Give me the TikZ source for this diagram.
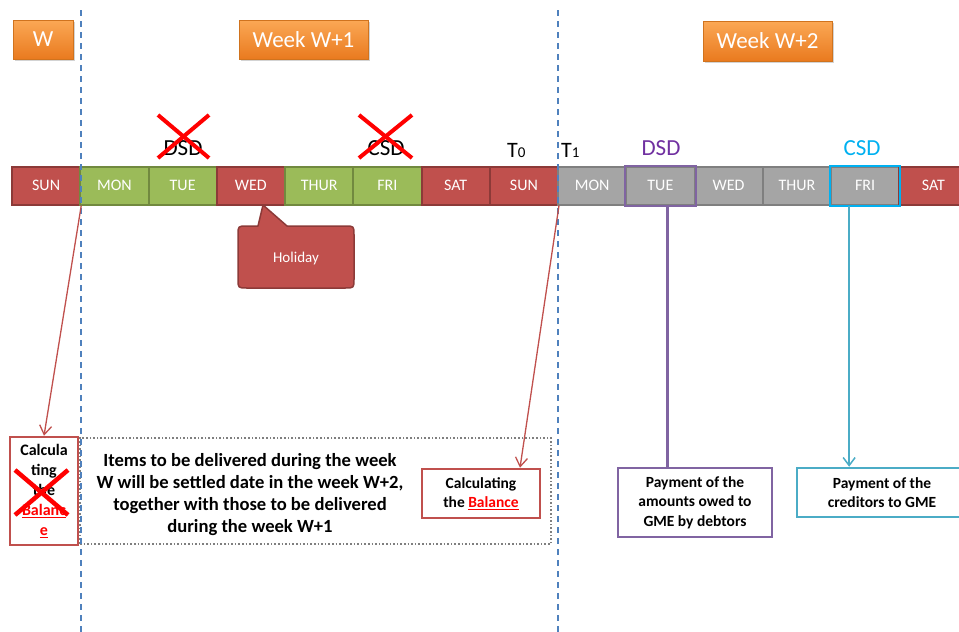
\documentclass[tikz,border=0pt]{standalone}
\usepackage{fontspec}
\setmainfont{Carlito}
\usetikzlibrary{arrows.meta,calc,shadows}
\definecolor{redfill}{HTML}{C0504D}
\definecolor{redborder}{HTML}{8C3A38}
\definecolor{greenfill}{HTML}{9BBB59}
\definecolor{greenborder}{HTML}{71893F}
\definecolor{grayfill}{HTML}{A5A5A5}
\definecolor{grayborder}{HTML}{7F7F7F}
\definecolor{dsdpurple}{HTML}{7030A0}
\definecolor{boxpurple}{HTML}{8064A2}
\definecolor{csdcyan}{HTML}{00B0F0}
\definecolor{boxcyan}{HTML}{4BACC6}
\definecolor{dashblue}{HTML}{4F81BD}
\definecolor{orangetop}{HTML}{FBA855}
\definecolor{orangebot}{HTML}{E97A1F}
\definecolor{orangeborder}{HTML}{D0731E}
\definecolor{crossred}{HTML}{FF0000}
\newcommand\balword[1]{\textcolor{crossred}{\underline{#1}}}
\begin{document}
\begin{tikzpicture}[x=1pt,y=-1pt,
  cell/.style={draw=#1border, fill=#1fill, line width=2pt, minimum width=68.25pt,
    minimum height=38pt, inner sep=0pt, text=white, font=\fontsize{16}{18}\selectfont},
  weekbox/.style={draw=orangeborder, line width=0.8pt, top color=orangetop, bottom color=orangebot,
    minimum height=39pt, inner sep=0pt, text=white, font=\fontsize{23}{26}\selectfont,
    drop shadow={shadow xshift=1.5pt, shadow yshift=-2pt, opacity=0.35}},
  daylabel/.style={font=\fontsize{23}{26}\selectfont, inner sep=0pt},
  tlabel/.style={inner sep=0pt, anchor=base west},
  cross/.style={draw=crossred, line width=4pt},
  vline/.style={draw=dashblue, line width=1.5pt, dash pattern=on 6pt off 5pt},
  redarrow/.style={draw=redfill, line width=1.3pt, -{Straight Barb[length=9pt,width=12pt]}},
  infobox/.style={draw=#1, line width=2.5pt, fill=white, inner sep=0pt, align=center,
    font=\bfseries\fontsize{15.5}{19.5}\selectfont}
]
\useasboundingbox (0,0) rectangle (959,632);

% week boxes
\node[weekbox, minimum width=60pt] (w0) at (43,39.5) {W};
\node[weekbox, minimum width=129pt] (w1) at (303.5,39.5) {Week W+1};
\node[weekbox, minimum width=129pt, minimum height=40pt] (w2) at (767.5,41) {Week W+2};

% timeline cells
\foreach \i/\lab/\col in {0/SUN/red,1/MON/green,2/TUE/green,3/WED/red,4/THUR/green,5/FRI/green,6/SAT/red,
  7/SUN/red,8/MON/gray,9/TUE/gray,10/WED/gray,11/THUR/gray,12/FRI/gray,13/SAT/red}
  \node[cell=\col] (c\i) at ({12+68.25*\i+34.125},185.5) {\lab};
\draw[draw=boxpurple, line width=2pt] (c9.south west) rectangle (c9.north east);
\draw[draw=csdcyan, line width=2pt] (c12.south west) rectangle (c12.north east);

% labels above
\node[daylabel] (dsd1) at (183,148) {DSD};
\node[daylabel] (csd1) at (386,148) {CSD};
\node[daylabel, text=dsdpurple] (dsd2) at (661,148) {DSD};
\node[daylabel, text=csdcyan] (csd2) at (862,148) {CSD};
\node[tlabel] (t0) at (507,157) {\fontsize{22}{24}\selectfont T\fontsize{15}{17}\selectfont 0};
\node[tlabel] (t1) at (561,157) {\fontsize{22}{24}\selectfont T\fontsize{15}{17}\selectfont 1};

% crosses
\draw[cross] (158,115) -- (209,158);
\draw[cross] (158,158) -- (209,115);
\draw[cross] (359,115) -- (412,158);
\draw[cross] (359,158) -- (412,115);

% holiday callout
\draw[fill=redfill, draw=redborder, line width=1.5pt, line join=round]
  (263,205) -- (287,226) -- (345,226) .. controls (354,226) .. (354,235)
  -- (354,279) .. controls (354,288) .. (345,288)
  -- (247,288) .. controls (238,288) .. (238,279)
  -- (238,235) .. controls (238,226) .. (247,226)
  -- (258,226) -- cycle;
\node[text=white, font=\fontsize{15}{18}\selectfont] (holiday) at (296,258) {Holiday};

% dotted box and text
\node[draw=grayborder, dotted, line width=1.6pt, minimum width=471pt, minimum height=106pt, inner sep=0pt] (dbox) at (315.5,491) {};
\node[align=center, font=\bfseries\fontsize{18.6}{22}\selectfont] (items) at (250,495)
  {Items to be delivered during the week\\W will be settled date in the week W+2,\\together with those to be delivered\\during the week W+1};

% left box
\node[infobox=redfill, minimum width=68pt, minimum height=108pt, font=\bfseries\fontsize{16}{20}\selectfont] (lbox) at (44,491)
  {Calcula\\ting\\the\\\balword{Balanc}\\\balword{e}};
\draw[cross, line width=4.5pt] (15,470) -- (68,515);
\draw[cross, line width=4.5pt] (15,515) -- (68,470);

% calculating box
\node[infobox=redfill, minimum width=118pt, minimum height=49pt] (cbox) at (481,493.5)
  {Calculating\\the \balword{Balance}};

% payment boxes
\node[infobox=boxpurple, minimum width=154pt, minimum height=69pt] (pbox) at (695,502.5)
  {Payment of the\\amounts owed to\\GME by debtors};
\node[infobox=boxcyan, minimum width=170pt, minimum height=49pt] (cybox) at (882,492.5)
  {Payment of the\\creditors to GME};

% vertical dashed lines
\draw[vline] (81,10) -- (81,632);
\draw[vline] (558,10) -- (558,632);

% connectors
\draw[redarrow] (c0.south east) -- (lbox.north);
\draw[redarrow] (c7.south east) -- ([xshift=39pt]cbox.north);
\draw[draw=boxpurple, line width=2.5pt] ([xshift=7pt]c9.south) -- ([xshift=7pt]c9.south |- pbox.north);
\draw[draw=boxcyan, line width=1.5pt, -{Straight Barb[length=8pt,width=12pt]}] ([xshift=-16pt]c12.south) -- ([xshift=-16pt]c12.south |- cybox.north);
\end{tikzpicture}
\end{document}
